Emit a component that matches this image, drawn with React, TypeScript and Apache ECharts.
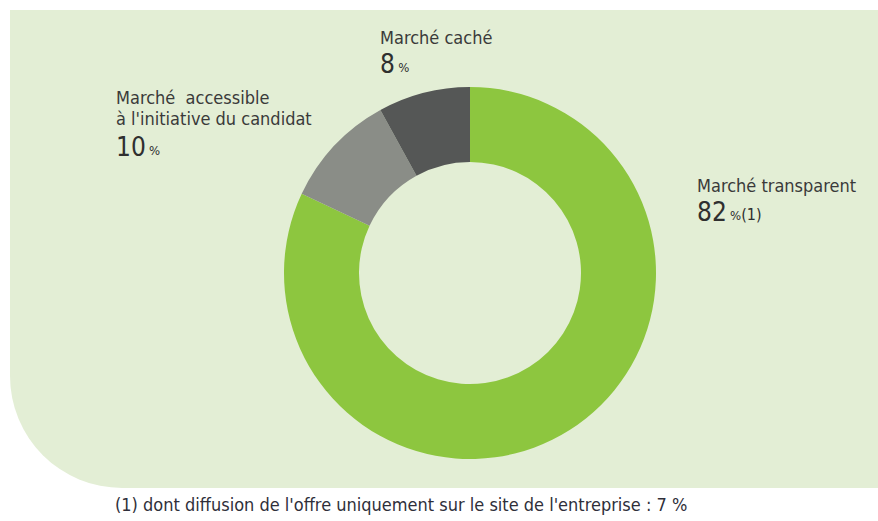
import React, { useEffect, useRef } from "react";
import * as echarts from "echarts";

const categories = ["Marché transparent", "Marché  accessible\nà l'initiative du candidat", "Marché caché"];
const values = [82, 10, 8];
const colors = ["#8dc63f", "#8a8d87", "#555756"];
const valueSuffix = ["(1)", "", ""];
const footnote = "(1) dont diffusion de l'offre uniquement sur le site de l'entreprise : 7 %";

const FONT = "'Liberation Sans Narrow', 'DejaVu Sans Condensed', 'Open Sans', sans-serif";
const TXT = "#3a3a3a";

export default function App() {
  const ref = useRef<HTMLDivElement>(null);
  useEffect(() => {
    if (!ref.current) return;
    const chart = echarts.init(ref.current, null, { renderer: "svg" });
    const labelPos = [
      [697, 175],
      [116, 87],
      [380, 27],
    ];
    const graphics: any[] = [
      {
        type: "rect",
        z: -10,
        shape: { x: 10, y: 10, width: 870, height: 478, r: [0, 0, 0, 112] },
        style: { fill: "#e3eed5" },
        silent: true,
      },
    ];
    categories.forEach((c, i) => {
      const lines = c.split("\n");
      const [x, y] = labelPos[i];
      graphics.push({
        type: "text",
        x,
        y,
        style: {
          text: c,
          font: `18px ${FONT}`,
          fill: TXT,
          lineHeight: 21,
          textVerticalAlign: "top",
        },
      });
      graphics.push({
        type: "text",
        x,
        y: y + lines.length * 23 + 1,
        style: {
          text: `{n|${values[i]}} {p|%}{s|${valueSuffix[i]}}`,
          rich: {
            n: { font: `26px ${FONT}`, fill: "#2f2f2f" },
            p: { font: `13px ${FONT}`, fill: "#2f2f2f", padding: [7, 0, 0, 0] },
            s: { font: `16px ${FONT}`, fill: "#2f2f2f", padding: [5, 0, 0, 0] },
          },
          textVerticalAlign: "top",
        },
      });
    });
    graphics.push({
      type: "text",
      x: 115,
      y: 495,
      style: { text: footnote, font: `18px ${FONT}`, fill: "#2f2f3a", textVerticalAlign: "top" },
    });

    chart.setOption({
      animation: false,
      backgroundColor: "#ffffff",
      graphic: graphics,
      series: [
        {
          type: "pie",
          center: [470, 273],
          radius: [111, 186],
          startAngle: 90,
          clockwise: true,
          label: { show: false },
          labelLine: { show: false },
          silent: true,
          itemStyle: { borderWidth: 0 },
          data: categories.map((c, i) => ({
            name: c,
            value: values[i],
            itemStyle: { color: colors[i] },
          })),
        },
      ],
    });
    return () => chart.dispose();
  }, []);
  return (
    <div
      ref={ref}
      style={{ position: "fixed", left: 0, top: 0, width: 878, height: 521 }}
    />
  );
}
